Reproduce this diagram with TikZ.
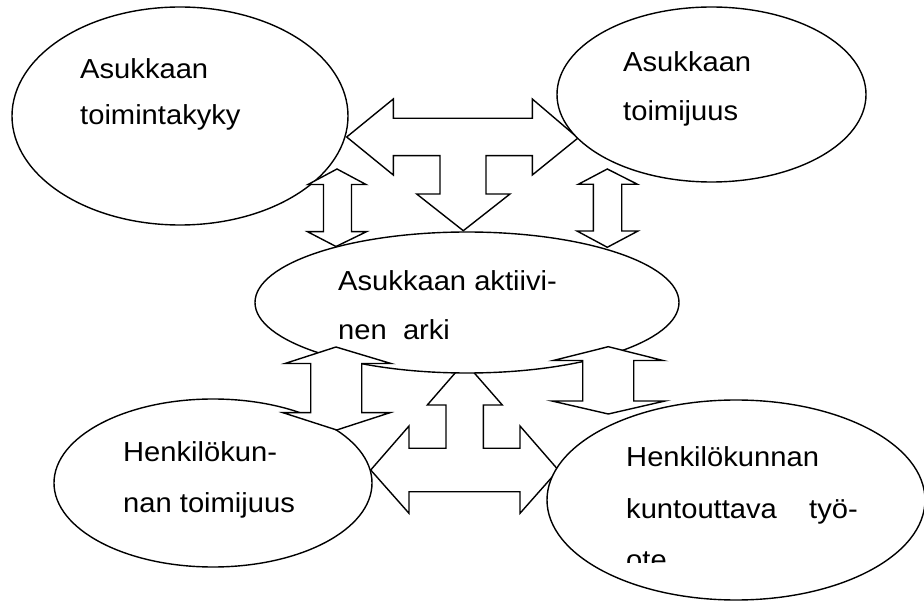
\documentclass[tikz,border=0pt]{standalone}
\usepackage{fontspec}
\newfontfamily\labelfont[FakeStretch=1.06]{Liberation Sans}
\usetikzlibrary{shapes.geometric}
\tikzset{
  bubble/.style={ellipse, draw=black, fill=white, line width=1.4pt, inner sep=0pt},
  blockarrow/.style={draw=black, fill=white, line width=1.4pt, line join=miter},
  lbl/.style={anchor=base west, inner sep=0pt, font=\labelfont\fontsize{27.5}{33}\selectfont}
}
\begin{document}
\begin{tikzpicture}[x=1pt,y=-1pt]
\useasboundingbox (0,0) rectangle (924,601);
\fill[white] (0,0) rectangle (924,601);

% lower T-shaped arrow (up towards the centre, left-right between the staff ellipses)
\draw[blockarrow] (464.7,362) -- (502.3,405) -- (483.3,405) -- (483.3,448.3)
  -- (520,448.3) -- (520,426) -- (558.3,470) -- (520,513.3) -- (520,491.7)
  -- (409,491.7) -- (409,513.3) -- (370.7,470) -- (409,426) -- (409,448.3)
  -- (446,448.3) -- (446,405) -- (427.3,405) -- cycle;

% upper T-shaped arrow (left-right between the resident ellipses, down to the centre)
\draw[blockarrow] (346.7,137) -- (393.3,99) -- (393.3,118.3) -- (532.3,118.3)
  -- (532.3,99) -- (578,138) -- (532.3,175) -- (532.3,155.7) -- (486,155.7)
  -- (486,194) -- (510,194) -- (463.3,230.7) -- (416.7,194) -- (440,194)
  -- (440,155.7) -- (393.3,155.7) -- (393.3,175) -- cycle;

% ellipses
\node[bubble, minimum width=336pt, minimum height=218pt] (tl) at (180,116) {};
\node[bubble, minimum width=309pt, minimum height=175pt] (tr) at (711.5,94.5) {};
\node[bubble, minimum width=424pt, minimum height=141pt] (mid) at (467,302.5) {};
\node[bubble, minimum width=318pt, minimum height=168pt] (bl) at (213,483) {};
\node[bubble, minimum width=378pt, minimum height=200pt] (br) at (736,500) {};

% small double arrows
\draw[blockarrow] (337,169) -- (366,184.5) -- (351.5,184.5) -- (351.5,231.7)
  -- (366.5,231.7) -- (336,246.5) -- (307.5,231.7) -- (323.5,231.7)
  -- (323.5,184.5) -- (308,184.5) -- cycle;
\draw[blockarrow] (607.3,169) -- (637.5,184.3) -- (621.7,184.3) -- (621.7,231)
  -- (638,231) -- (607.3,247.3) -- (577,231) -- (593.3,231)
  -- (593.3,184.3) -- (578.3,184.3) -- cycle;
\draw[blockarrow] (336,347) -- (391,363.5) -- (361.7,363.5) -- (361.7,412.7)
  -- (390,412.7) -- (336.7,430) -- (283,412.7) -- (310.7,412.7)
  -- (310.7,363.5) -- (285,363.5) -- cycle;
\draw[blockarrow] (608.3,346.7) -- (663,360.5) -- (633.7,360.5) -- (633.7,401)
  -- (665,401) -- (608.3,414) -- (552,401) -- (582.7,401)
  -- (582.7,360.5) -- (553.3,360.5) -- cycle;

% labels
\node[lbl] (tl1) at (80,79) {Asukkaan};
\node[lbl] (tl2) at (80,125) {toimintakyky};
\node[lbl] (tr1) at (623,72) {Asukkaan};
\node[lbl] (tr2) at (623,121) {toimijuus};
\node[lbl] (mid1) at (338,291) {Asukkaan aktiivi-};
\node[lbl] (mid2) at (338,340) {nen~~arki};
\node[lbl] (bl1) at (123,461) {Henkilökun-};
\node[lbl] (bl2) at (123,512) {nan toimijuus};
\node[lbl] (br1) at (626,467) {Henkilökunnan};
\node[lbl] (br2) at (626,518) {kuntouttava};
\node[lbl] (br3) at (809,518) {työ-};
\begin{scope}
  \clip (600,530) rectangle (720,562);
  \node[lbl] (br4) at (626,569) {ote};
\end{scope}
\end{tikzpicture}
\end{document}
